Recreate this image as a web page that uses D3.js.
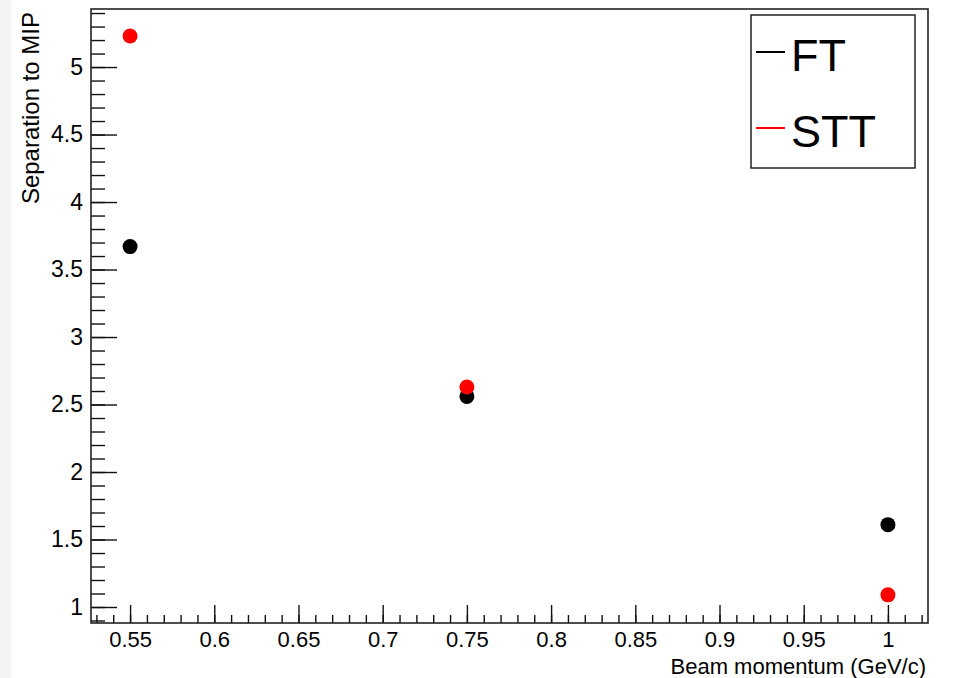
<!DOCTYPE html>
<html>
<head>
<meta charset="utf-8">
<script src="https://cdn.jsdelivr.net/npm/d3@7"></script>
<style>
  body { margin: 0; background: #fff; }
  svg text { font-family: "Liberation Sans", Arial, sans-serif; fill: #000; }
</style>
</head>
<body>
<div id="chart"></div>
<script>
// ---- data ----
const momentum = [0.55, 0.75, 1.0];
const ftSeparation = [3.67, 2.56, 1.61];
const sttSeparation = [5.23, 2.63, 1.09];
const seriesNames = ["FT", "STT"];
const seriesColors = ["#000000", "#ff0000"];

const xTickLabels = ["0.55", "0.6", "0.65", "0.7", "0.75", "0.8", "0.85", "0.9", "0.95", "1"];
const yTickLabels = ["1", "1.5", "2", "2.5", "3", "3.5", "4", "4.5", "5"];

// ---- layout ----
const width = 956, height = 678;
const plot = { left: 91, right: 928, top: 9, bottom: 623 };

const svg = d3.select('#chart').append('svg')
    .attr('width', width).attr('height', height);

// grey strip on the left edge of the canvas
svg.append('rect').attr('x', 0).attr('y', 0).attr('width', 11).attr('height', height)
    .attr('fill', '#f4f4f4');

const x = d3.scaleLinear().domain([0.5268, 1.0238]).range([plot.left, plot.right]);
const y = d3.scaleLinear().domain([0.8815, 5.43]).range([plot.bottom, plot.top]);

// minor ticks every 0.01 in x and 0.1 in y
const xMinor = d3.range(53, 103).map(d => d / 100);
const yMinor = d3.range(9, 55).map(d => d / 10);

svg.append('g')
    .attr('transform', `translate(0,${plot.bottom})`)
    .call(d3.axisBottom(x).tickValues(xMinor).tickSizeInner(-8).tickSizeOuter(0).tickFormat(''))
    .call(g => g.select('.domain').remove());

svg.append('g')
    .attr('transform', `translate(${plot.left},0)`)
    .call(d3.axisLeft(y).tickValues(yMinor).tickSizeInner(-14).tickSizeOuter(0).tickFormat(''))
    .call(g => g.select('.domain').remove());

// major ticks with labels
const xAxis = svg.append('g')
    .attr('transform', `translate(0,${plot.bottom})`)
    .call(d3.axisBottom(x).tickValues(xTickLabels.map(Number))
        .tickFormat((d, i) => xTickLabels[i])
        .tickSizeInner(-18).tickSizeOuter(0).tickPadding(6));
xAxis.select('.domain').remove();
xAxis.selectAll('text').attr('font-size', 22).attr('dy', '0.8em');

const yAxis = svg.append('g')
    .attr('transform', `translate(${plot.left},0)`)
    .call(d3.axisLeft(y).tickValues(yTickLabels.map(Number))
        .tickFormat((d, i) => yTickLabels[i])
        .tickSizeInner(-26).tickSizeOuter(0).tickPadding(8));
yAxis.select('.domain').remove();
yAxis.selectAll('text').attr('font-size', 23);

svg.selectAll('.tick line').attr('stroke', '#111').attr('stroke-width', 1.4);

// frame
svg.append('rect')
    .attr('x', plot.left).attr('y', plot.top)
    .attr('width', plot.right - plot.left).attr('height', plot.bottom - plot.top)
    .attr('fill', 'none').attr('stroke', '#222').attr('stroke-width', 1.6);

// axis titles
svg.append('text')
    .attr('x', plot.right - 2).attr('y', 674)
    .attr('text-anchor', 'end').attr('font-size', 22)
    .text('Beam momentum (GeV/c)');

svg.append('text')
    .attr('transform', `translate(39,${plot.top + 3}) rotate(-90)`)
    .attr('text-anchor', 'end').attr('font-size', 24)
    .text('Separation to MIP');

// points
const series = [ftSeparation, sttSeparation];
series.forEach((vals, s) => {
    svg.append('g').selectAll('circle')
        .data(momentum.map((m, i) => [m, vals[i]]))
        .join('circle')
        .attr('cx', d => x(d[0]))
        .attr('cy', d => y(d[1]))
        .attr('r', 7.5)
        .attr('fill', seriesColors[s]);
});

// legend
const legend = svg.append('g');
legend.append('rect')
    .attr('x', 751).attr('y', 15).attr('width', 164).attr('height', 153)
    .attr('fill', '#fff').attr('stroke', '#222').attr('stroke-width', 1.5);
seriesNames.forEach((name, i) => {
    const cy = 52 + i * 76;
    legend.append('line')
        .attr('x1', 756).attr('x2', 785).attr('y1', cy).attr('y2', cy)
        .attr('stroke', seriesColors[i]).attr('stroke-width', 2);
    legend.append('text')
        .attr('x', 791).attr('y', cy + 19)
        .attr('font-size', 45)
        .text(name);
});
</script>
</body>
</html>
